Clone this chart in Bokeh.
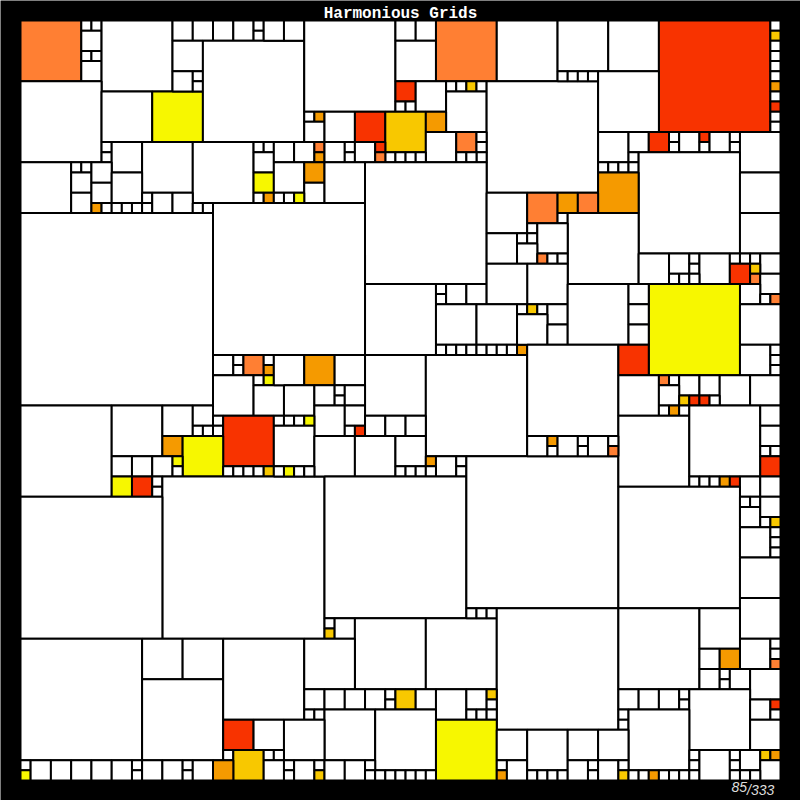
from bokeh.plotting import figure
from bokeh.models import ColumnDataSource, Range1d
from bokeh.core.properties import value
from bokeh.embed import file_html
from bokeh.resources import INLINE

# Squares on a 75x75 grid: (col, row, size, colour key); rows counted from the top
region_top_left = [
    (0,0,6,"C"),(6,0,1,"W"),(7,0,1,"W"),(6,1,2,"W"),(6,3,1,"W"),(7,3,1,"W"),(6,4,2,"W"),
    (8,0,7,"W"),(0,6,8,"W"),(8,7,5,"W"),(13,7,5,"Y"),
    (15,0,2,"W"),(17,0,2,"W"),(19,0,2,"W"),(21,0,2,"W"),(23,0,1,"W"),(23,1,1,"W"),
    (15,2,3,"W"),(15,5,2,"W"),(17,5,1,"W"),(17,6,1,"W"),(18,2,10,"W"),
    (8,12,1,"W"),(8,13,1,"W"),(9,12,3,"W"),(12,12,5,"W"),(17,12,6,"W"),
    (23,12,1,"W"),(24,12,1,"W"),(23,13,2,"W"),(23,15,2,"Y"),(23,17,1,"W"),(24,17,1,"A"),
    (0,14,5,"W"),(5,14,1,"W"),(6,14,1,"W"),(5,15,2,"W"),(5,17,2,"W"),(7,14,2,"W"),(7,16,2,"W"),
    (7,18,1,"A"),(8,18,1,"W"),(9,18,1,"W"),(10,18,1,"W"),(11,18,1,"W"),(12,18,1,"W"),
    (9,15,3,"W"),(12,17,1,"W"),(13,17,2,"W"),(15,17,2,"W"),(17,18,1,"W"),(18,18,1,"W"),
    (0,19,19,"W"),(19,18,15,"W"),
]
region_top_mid = [
    (24,0,2,"W"),(26,0,2,"W"),(28,0,9,"W"),(37,0,2,"W"),(39,0,2,"W"),(37,2,4,"W"),
    (41,0,6,"C"),(47,0,6,"W"),(37,6,2,"R"),(37,8,1,"W"),(38,8,1,"W"),(39,6,3,"W"),
    (42,6,1,"W"),(43,6,1,"W"),(44,6,1,"G"),(45,6,1,"W"),(42,7,4,"W"),(46,6,11,"W"),
    (28,9,1,"W"),(29,9,1,"A"),(28,10,2,"W"),(30,9,3,"W"),(33,9,3,"R"),(36,9,4,"G"),
    (40,9,2,"A"),(40,11,3,"W"),(43,11,2,"C"),(45,11,1,"W"),(45,12,1,"W"),(45,13,1,"W"),
    (43,13,1,"W"),(44,13,1,"W"),(36,13,1,"W"),(37,13,1,"W"),(38,13,1,"W"),(39,13,1,"W"),
    (25,12,2,"W"),(27,12,2,"W"),(29,12,1,"C"),(29,13,1,"A"),(30,12,2,"W"),(32,12,1,"W"),
    (32,13,1,"W"),(33,12,2,"W"),(35,12,1,"R"),(35,13,1,"C"),
    (25,14,3,"W"),(28,14,2,"A"),(28,16,2,"W"),(30,14,4,"W"),
    (25,17,1,"W"),(26,17,1,"W"),(27,17,1,"Y"),(34,14,12,"W"),
    (46,17,4,"W"),(46,21,3,"W"),(49,21,1,"W"),
]
region_top_right = [
    (53,0,5,"W"),(58,0,5,"W"),(63,0,11,"R"),
    (74,0,1,"W"),(74,1,1,"G"),(74,2,1,"W"),(74,3,1,"W"),(74,4,1,"W"),(74,5,1,"W"),
    (74,6,1,"A"),(74,7,1,"W"),(74,8,1,"R"),(74,9,1,"W"),(74,10,1,"W"),
    (53,5,1,"W"),(54,5,1,"W"),(55,5,1,"W"),(56,5,1,"W"),(57,5,6,"W"),
    (57,11,3,"W"),(60,11,2,"W"),(62,11,2,"R"),(64,11,1,"W"),(64,12,1,"W"),(65,11,2,"W"),
    (67,11,1,"R"),(67,12,1,"W"),(68,11,2,"W"),(70,11,1,"W"),(70,12,1,"W"),(71,11,4,"W"),
    (60,13,1,"W"),(57,14,1,"W"),(58,14,1,"W"),(59,14,1,"W"),(60,14,1,"W"),(61,13,10,"W"),
    (57,15,4,"A"),(71,15,4,"W"),(71,19,4,"W"),
    (50,17,3,"C"),(53,17,2,"A"),(55,17,2,"C"),(53,19,1,"W"),(54,19,7,"W"),
    (50,20,1,"W"),(50,21,1,"W"),(51,20,3,"W"),(49,22,2,"W"),
    (51,23,1,"C"),(52,23,1,"W"),(53,23,1,"W"),(50,24,4,"W"),
    (61,23,3,"W"),(64,23,2,"W"),(66,23,1,"W"),(66,24,1,"W"),(67,23,3,"W"),
    (70,23,1,"W"),(71,23,1,"W"),(72,23,1,"W"),(73,23,2,"W"),(70,24,2,"R"),(72,24,1,"G"),
]
region_mid_left = [
    (19,33,2,"W"),(21,33,1,"W"),(21,34,1,"W"),(22,33,2,"C"),(24,33,1,"W"),(24,34,1,"A"),
    (19,35,4,"W"),(23,35,1,"W"),(24,35,1,"Y"),(23,36,3,"W"),
    (0,38,9,"W"),(9,38,5,"W"),(14,38,3,"W"),(17,38,2,"W"),(17,40,1,"W"),(18,40,1,"W"),
    (19,39,1,"W"),(19,40,1,"W"),(20,39,5,"R"),(14,41,2,"A"),(16,41,4,"Y"),
    (9,43,2,"W"),(11,43,2,"W"),(13,43,2,"W"),(15,43,1,"Y"),(15,44,1,"W"),
    (20,44,1,"W"),(21,44,1,"W"),(22,44,1,"W"),(23,44,1,"W"),(24,44,1,"G"),
    (9,45,2,"Y"),(11,45,2,"R"),(13,45,1,"W"),(13,46,1,"W"),(14,45,16,"W"),(0,47,14,"W"),
]
region_centre = [
    (34,26,7,"W"),(41,26,1,"W"),(41,27,1,"W"),(42,26,2,"W"),(44,26,2,"W"),(46,24,4,"W"),
    (41,28,4,"W"),(45,28,4,"W"),(49,28,1,"W"),
    (41,32,1,"W"),(42,32,1,"W"),(43,32,1,"W"),(44,32,1,"W"),(45,32,1,"W"),(46,32,1,"W"),
    (47,32,1,"W"),(48,32,1,"W"),(49,32,1,"A"),
    (25,33,3,"W"),(28,33,3,"A"),(31,33,3,"W"),(34,33,6,"W"),(40,33,10,"W"),
    (26,36,3,"W"),(29,36,2,"W"),(31,36,1,"W"),(31,37,1,"W"),(32,36,2,"W"),
    (29,38,3,"W"),(32,38,2,"W"),(32,40,1,"W"),(33,40,1,"R"),
    (34,39,2,"W"),(36,39,2,"W"),(38,39,2,"W"),
    (25,39,1,"W"),(26,39,1,"W"),(27,39,1,"W"),(28,39,1,"Y"),(25,40,4,"W"),
    (29,41,4,"W"),(33,41,4,"W"),(37,41,3,"W"),
    (40,43,1,"A"),(41,43,2,"W"),(43,43,1,"W"),(43,44,1,"W"),
    (25,44,1,"W"),(26,44,1,"Y"),(27,44,1,"W"),(28,44,1,"W"),
    (37,44,1,"W"),(38,44,1,"W"),(39,44,1,"W"),(40,44,1,"W"),
    (30,45,14,"W"),(44,43,15,"W"),
]
region_mid_right = [
    (64,25,1,"W"),(65,25,1,"W"),(66,25,1,"W"),(72,25,1,"C"),(73,25,2,"W"),(71,26,2,"W"),
    (73,27,1,"W"),(74,27,1,"C"),(62,26,9,"Y"),
    (50,28,1,"G"),(51,28,1,"W"),(52,28,2,"W"),(49,29,3,"W"),(52,30,2,"W"),(54,26,6,"W"),
    (60,26,2,"W"),(60,28,2,"W"),(60,30,2,"W"),(50,32,9,"W"),(59,32,3,"R"),(71,28,4,"W"),
    (71,32,3,"W"),(74,32,1,"W"),(74,33,1,"W"),(74,34,1,"W"),
    (59,35,4,"W"),(63,35,1,"C"),(64,35,1,"W"),(65,35,2,"W"),(67,35,2,"W"),(69,35,3,"W"),
    (72,35,3,"W"),(63,36,2,"W"),(65,37,1,"G"),(66,37,1,"R"),(67,37,1,"R"),(68,37,1,"W"),
    (63,38,1,"W"),(64,38,1,"A"),(65,38,1,"W"),(59,39,7,"W"),(66,38,7,"W"),
    (73,38,2,"W"),(73,40,2,"W"),(73,42,1,"W"),(74,42,1,"W"),(73,43,2,"R"),
    (50,41,2,"W"),(52,41,1,"A"),(52,42,1,"W"),(53,41,2,"W"),(55,41,1,"W"),(55,42,1,"W"),
    (56,41,2,"W"),(58,41,1,"W"),(58,42,1,"C"),
    (66,45,1,"W"),(67,45,1,"W"),(68,45,1,"W"),(69,45,1,"A"),(70,45,1,"R"),
    (71,45,2,"W"),(73,45,2,"W"),(59,46,12,"W"),
    (71,47,1,"W"),(72,47,1,"W"),(71,48,2,"W"),(73,47,2,"W"),(73,49,1,"W"),(74,49,1,"G"),
]
region_bottom_left = [
    (0,61,12,"W"),(12,61,4,"W"),(16,61,4,"W"),(12,65,8,"W"),(20,61,8,"W"),
    (20,69,3,"R"),(23,69,3,"W"),(20,72,1,"W"),(21,72,3,"G"),(24,72,1,"W"),
    (0,73,1,"W"),(0,74,1,"Y"),(1,73,2,"W"),(3,73,2,"W"),(5,73,2,"W"),(7,73,2,"W"),
    (9,73,2,"W"),(11,73,1,"W"),(11,74,1,"W"),(12,73,2,"W"),(14,73,2,"W"),
    (16,73,1,"W"),(16,74,1,"W"),(17,73,2,"W"),(19,73,2,"A"),
]
region_bottom_mid = [
    (30,59,1,"W"),(30,60,1,"G"),(31,59,2,"W"),(33,59,7,"W"),(40,59,7,"W"),
    (44,58,1,"W"),(45,58,1,"W"),(46,58,1,"W"),(47,58,12,"W"),(28,61,5,"W"),
    (28,66,2,"W"),(30,66,2,"W"),(32,66,2,"W"),(34,66,2,"W"),(36,66,1,"W"),(36,67,1,"W"),
    (37,66,2,"G"),(39,66,2,"W"),(41,66,3,"W"),(44,66,2,"W"),(46,66,1,"G"),(46,67,1,"W"),
    (28,68,1,"W"),(29,68,1,"W"),(44,68,1,"W"),(45,68,1,"W"),(46,68,1,"W"),
    (30,68,5,"W"),(35,68,6,"W"),(41,69,6,"Y"),(26,69,4,"W"),(25,72,1,"W"),
    (24,73,2,"W"),(26,73,1,"W"),(26,74,1,"W"),(27,73,2,"W"),(29,73,1,"W"),(29,74,1,"G"),
    (30,73,2,"W"),(32,73,2,"W"),(34,73,1,"W"),(34,74,1,"W"),
    (35,74,1,"W"),(36,74,1,"W"),(37,74,1,"W"),(38,74,1,"W"),(39,74,1,"W"),(40,74,1,"W"),
    (47,70,3,"W"),(47,73,1,"W"),(47,74,1,"A"),(48,73,2,"W"),
]
region_bottom_right = [
    (71,50,3,"W"),(74,50,1,"W"),(74,51,1,"W"),(74,52,1,"W"),(71,53,4,"W"),(71,57,4,"W"),
    (71,61,3,"W"),(74,61,1,"W"),(74,62,1,"W"),(74,63,1,"C"),(59,58,8,"W"),(67,58,4,"W"),
    (67,62,2,"W"),(69,62,2,"A"),(67,64,2,"W"),(69,64,1,"W"),(69,65,1,"W"),(70,64,2,"W"),
    (72,64,3,"W"),(59,66,2,"W"),(61,66,2,"W"),(63,66,2,"W"),(65,66,1,"W"),(65,67,1,"W"),
    (66,66,6,"W"),(72,67,2,"W"),(74,67,1,"R"),(74,68,1,"W"),(72,69,3,"W"),
    (59,68,1,"W"),(59,69,1,"W"),(60,68,6,"W"),(50,70,4,"W"),(54,70,3,"W"),(57,70,3,"W"),
    (50,74,1,"W"),(51,74,1,"W"),(52,74,1,"W"),(53,74,1,"W"),
    (54,73,2,"W"),(56,73,1,"W"),(56,74,1,"W"),(57,73,2,"W"),(59,73,1,"W"),(59,74,1,"G"),
    (60,74,1,"W"),(61,74,1,"W"),(62,74,1,"A"),(63,74,1,"W"),(64,74,1,"W"),(65,74,1,"W"),
    (66,72,1,"W"),(66,73,1,"W"),(66,74,1,"W"),(67,72,3,"W"),(70,72,1,"W"),(70,73,1,"W"),
    (70,74,1,"W"),(71,72,2,"W"),(73,72,1,"G"),(74,72,1,"A"),(73,73,2,"W"),
    (71,74,1,"W"),(72,74,1,"W"),
]

palette = {"W": "#ffffff", "C": "#ff7f33", "R": "#f83300", "Y": "#f7f700",
           "G": "#f8c800", "A": "#f59a00"}
title_text = "Harmonious Grids"
counter_num = "85"
counter_den = "/333"

GRID = 75
UNIT = 760 / GRID          # pixels per grid cell
W = H = 800
OFF = 20                   # grid offset inside the figure

squares = (region_top_left + region_top_mid + region_top_right + region_mid_left +
           region_centre + region_mid_right + region_bottom_left + region_bottom_mid +
           region_bottom_right)

src = ColumnDataSource(dict(
    left=[s[0] for s in squares],
    right=[s[0] + s[2] for s in squares],
    top=[s[1] for s in squares],
    bottom=[s[1] + s[2] for s in squares],
    color=[palette[s[3]] for s in squares],
))

lo = -OFF / UNIT
hi = (W - OFF) / UNIT
p = figure(width=W, height=H, x_range=Range1d(lo, hi), y_range=Range1d(hi, lo),
           output_backend="svg", toolbar_location=None, min_border=0,
           x_axis_type=None, y_axis_type=None,
           background_fill_color="black", border_fill_color="black",
           outline_line_color=None)
p.xgrid.visible = False
p.ygrid.visible = False

p.quad(left="left", right="right", top="top", bottom="bottom", source=src,
       fill_color="color", line_color="black", line_width=2)

p.text(x=[GRID / 2], y=[-0.62], text=[title_text], text_font=value("Liberation Mono"),
       text_font_style="bold", text_font_size="16px", text_color="white",
       text_align="center", text_baseline="alphabetic")
p.text(x=[71.7], y=[75.62], text=[counter_num], text_font=value("Liberation Sans"),
       text_font_style="italic", text_font_size="14px", text_color="#dddddd",
       text_align="right", text_baseline="alphabetic")
p.text(x=[71.7], y=[75.95], text=[counter_den], text_font=value("Liberation Sans"),
       text_font_style="italic", text_font_size="14px", text_color="#dddddd",
       text_align="left", text_baseline="alphabetic")

open("out.html", "w").write(file_html(p, INLINE))
